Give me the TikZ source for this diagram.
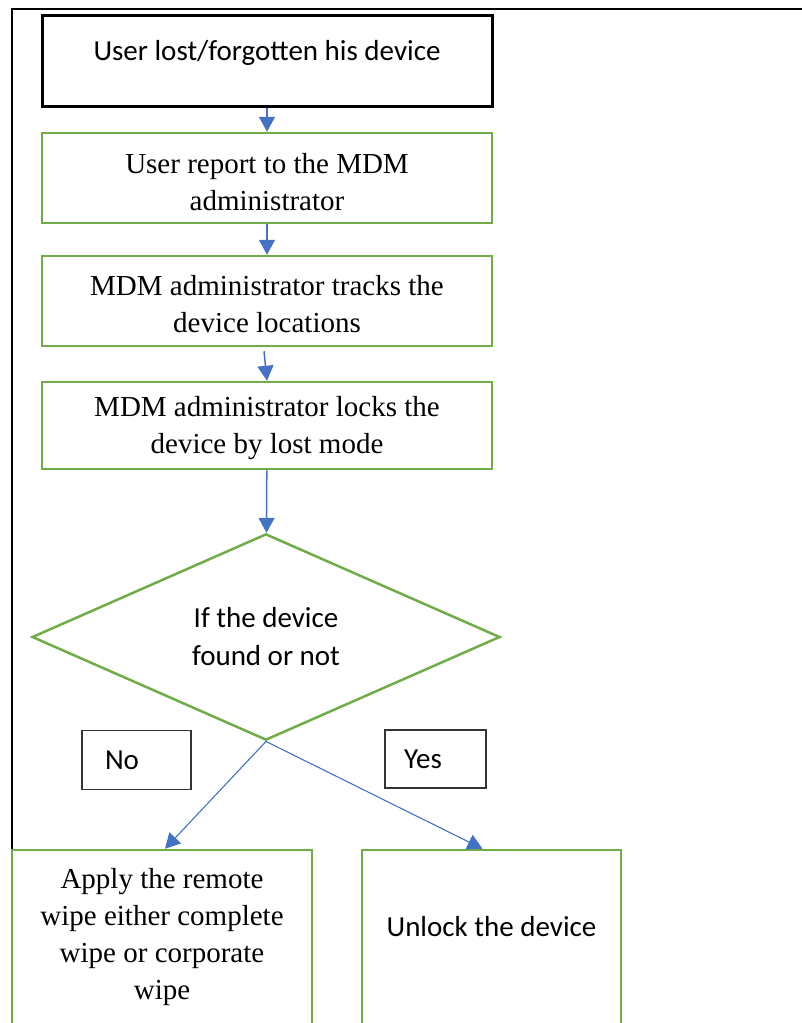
\documentclass[tikz,border=0pt]{standalone}
\usepackage{fontspec}
\setmainfont{Liberation Serif}
\newfontfamily\calfont{Carlito}
\usetikzlibrary{shapes.geometric,arrows.meta}
\definecolor{boxgreen}{RGB}{112,173,71}
\definecolor{flowblue}{RGB}{68,114,196}
\definecolor{labelgray}{RGB}{51,51,51}
\begin{document}
\begin{tikzpicture}[x=1pt,y=-1pt,
  bigfont/.style={font=\fontsize{29}{37}\selectfont},
  calfont/.style={font=\calfont\fontsize{29}{38}\selectfont},
  blackbox/.style={draw=black, line width=3pt, minimum width=450pt, minimum height=90.5pt, inner sep=0pt},
  greenbox/.style={draw=boxgreen, line width=2.5pt, minimum width=450pt, minimum height=90pt, inner sep=0pt},
  decision/.style={diamond, draw=boxgreen, line width=2.5pt, minimum width=468pt, minimum height=202pt, inner sep=0pt, align=center, calfont},
  answer/.style={draw=labelgray, line width=1.3pt, minimum height=59pt, text width=63pt, align=left, calfont},
  outcome/.style={draw=boxgreen, line width=2.5pt, minimum height=220pt, inner sep=0pt},
  flow/.style={draw=flowblue, line width=1.5pt, -{Triangle[length=15pt,width=16pt]}},
  branch/.style={draw=flowblue, line width=1.1pt, -{Triangle[length=15pt,width=16pt]}},
  plain/.style={inner sep=0pt, align=center}]
\useasboundingbox (0,0) rectangle (802,1023);
\clip (0,0) rectangle (802,1023);

% outer frame (only top and left edges fall inside the page)
\coordinate (frameTL) at (11.5,9);
\coordinate (frameTR) at (810,9);
\coordinate (frameBL) at (11.5,850);
\draw[line width=2pt] (frameTR) -- (frameTL) -- (frameBL);

% process steps
\node[blackbox] (lost) at (267,60.75) {};
\node[plain, calfont] (losttext) at (267,53) {User lost/forgotten his device};

\node[greenbox] (report) at (267,178) {};
\node[plain, bigfont] (reporttext) at (267,182) {User report to the MDM\\administrator};

\node[greenbox] (track) at (267,301) {};
\node[plain, bigfont] (tracktext) at (267,304) {MDM administrator tracks the\\device locations};

\node[greenbox, minimum height=87pt] (lock) at (267,425.5) {};
\node[plain, bigfont] (locktext) at (267,428) {MDM administrator locks the\\device by lost mode};

% decision
\node[decision] (decide) at (266,637) {If the device\\found or not};

% branch labels
\node[answer, minimum width=109pt, inner xsep=23pt] (nolabel) at (136.5,760) {No};
\node[answer, minimum width=101pt, inner xsep=19pt, minimum height=58pt] (yeslabel) at (435.5,759) {Yes};

% outcomes
\node[outcome, minimum width=300pt] (wipe) at (162,960) {};
\node[plain, font=\fontsize{29}{36.7}\selectfont] (wipetext) at (162,937)
  {Apply the remote\\wipe either complete\\wipe or corporate\\wipe};
\node[outcome, minimum width=259pt] (unlock) at (491.5,960) {};
\node[plain, calfont] (unlocktext) at (491.5,927) {Unlock the device};

% connectors
\draw[flow] (lost) -- (report);
\draw[flow] (report) -- (track);
\draw[flow] ([xshift=-3pt,yshift=-4pt]track.south) -- (lock.north);
\draw[flow] (lock) -- (decide);
\draw[branch] (decide.south) -- ([xshift=3pt]wipe.north);
\draw[branch] (decide.south) -- ([xshift=-9pt]unlock.north);
\end{tikzpicture}
\end{document}
